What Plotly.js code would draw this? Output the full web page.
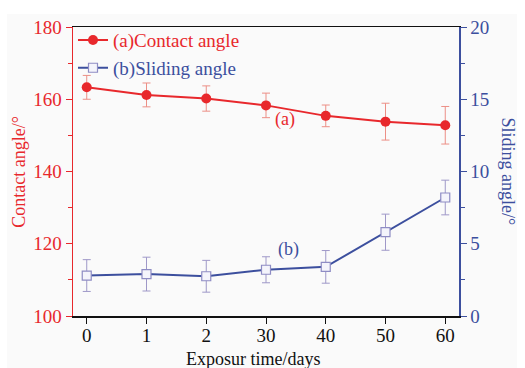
<!DOCTYPE html>
<html>
<head>
<meta charset="utf-8">
<script src="https://cdn.plot.ly/plotly-3.0.1.min.js"></script>
<style>html,body{margin:0;padding:0;background:#fff;}#chart{width:525px;height:368px;}</style>
</head>
<body>
<div id="chart"></div>
<script>
const days = ['0', '1', '2', '30', '40', '50', '60'];
const contactAngle = [163.3, 161.2, 160.2, 158.3, 155.4, 153.8, 152.8];
const contactErr = [3.3, 3.3, 3.5, 3.4, 3.0, 5.1, 5.2];
const slidingAngle = [2.8, 2.9, 2.75, 3.2, 3.4, 5.8, 8.2];
const slidingErr = [1.1, 1.17, 1.1, 0.9, 1.13, 1.25, 1.2];

const RED = '#e8282c';
const BLUE = '#3c4f9e';
const FONT = 'Liberation Serif, Times New Roman, serif';

const traces = [
  {
    x: days, y: contactAngle, type: 'scatter', mode: 'lines+markers',
    name: '<span style="color:' + RED + '">(a)Contact angle</span>',
    line: {color: RED, width: 2},
    marker: {color: RED, size: 10, symbol: 'circle'},
    error_y: {type: 'data', array: contactErr, visible: true, color: '#ec8f86', thickness: 1, width: 4}
  },
  {
    x: days, y: slidingAngle, type: 'scatter', mode: 'lines+markers', yaxis: 'y2',
    name: '<span style="color:' + BLUE + '">(b)Sliding angle</span>',
    line: {color: BLUE, width: 2},
    marker: {color: '#f4f4fb', size: 9, symbol: 'square', line: {color: '#8e8cc4', width: 1.2}},
    error_y: {type: 'data', array: slidingErr, visible: true, color: '#9f98c8', thickness: 1, width: 4}
  }
];

const layout = {
  width: 525, height: 368,
  margin: {l: 73, r: 66, t: 27, b: 52},
  paper_bgcolor: '#ffffff', plot_bgcolor: 'rgba(0,0,0,0)',
  font: {family: FONT, size: 19, color: '#111'},
  showlegend: true,
  legend: {x: 0.0, y: 1.02, xanchor: 'left', yanchor: 'top', bgcolor: 'rgba(0,0,0,0)',
           font: {family: FONT, size: 19}, tracegroupgap: 0},
  xaxis: {
    type: 'category', range: [-0.23, 6.23],
    showline: true, linecolor: '#111', linewidth: 1.5, mirror: true,
    ticks: 'outside', ticklen: 6, tickcolor: '#111', showgrid: false, zeroline: false,
    ticklabelstandoff: -4,
    tickfont: {family: FONT, size: 19, color: '#111'}
  },
  yaxis: {
    range: [100, 180], dtick: 20, showgrid: false, zeroline: false,
    showline: true, linecolor: RED, linewidth: 1.5,
    ticks: 'outside', ticklen: 6, tickcolor: RED,
    minor: {ticks: 'outside', ticklen: 4, dtick: 10, tickcolor: RED},
    tickfont: {family: FONT, size: 19, color: RED}
  },
  yaxis2: {
    range: [0, 20], dtick: 5, overlaying: 'y', side: 'right',
    showgrid: false, zeroline: false,
    showline: true, linecolor: BLUE, linewidth: 1.5,
    ticks: 'outside', ticklen: 6, tickcolor: BLUE,
    minor: {ticks: 'outside', ticklen: 4, dtick: 2.5, tickcolor: BLUE},
    tickfont: {family: FONT, size: 19, color: BLUE}
  },
  shapes: [
    {type: 'rect', xref: 'paper', yref: 'paper', x0: -0.171, x1: 1.150, y0: -0.18, y1: 1.045,
     fillcolor: '#fafafa', line: {width: 0}, layer: 'below'}
  ],
  annotations: [
    {xref: 'paper', yref: 'paper', x: 0.466, y: -0.148, xanchor: 'center', yanchor: 'middle',
     text: 'Exposur time/days', showarrow: false, font: {family: FONT, size: 18, color: '#111'}},
    {xref: 'paper', yref: 'paper', x: -0.142, y: 0.5, xanchor: 'center', yanchor: 'middle',
     text: 'Contact angle/°', textangle: -90, showarrow: false, font: {family: FONT, size: 18, color: RED}},
    {xref: 'paper', yref: 'paper', x: 1.127, y: 0.5, xanchor: 'center', yanchor: 'middle',
     text: 'Sliding angle/°', textangle: 90, showarrow: false, font: {family: FONT, size: 18, color: BLUE}},
    {xref: 'paper', yref: 'y', x: 0.549, y: 154.3, xanchor: 'center', yanchor: 'middle',
     text: '(a)', showarrow: false, font: {family: FONT, size: 18, color: RED}},
    {xref: 'paper', yref: 'y', x: 0.557, y: 118.5, xanchor: 'center', yanchor: 'middle',
     text: '(b)', showarrow: false, font: {family: FONT, size: 18, color: BLUE}}
  ]
};

Plotly.newPlot('chart', traces, layout, {displayModeBar: false, staticPlot: true});
</script>
</body>
</html>
